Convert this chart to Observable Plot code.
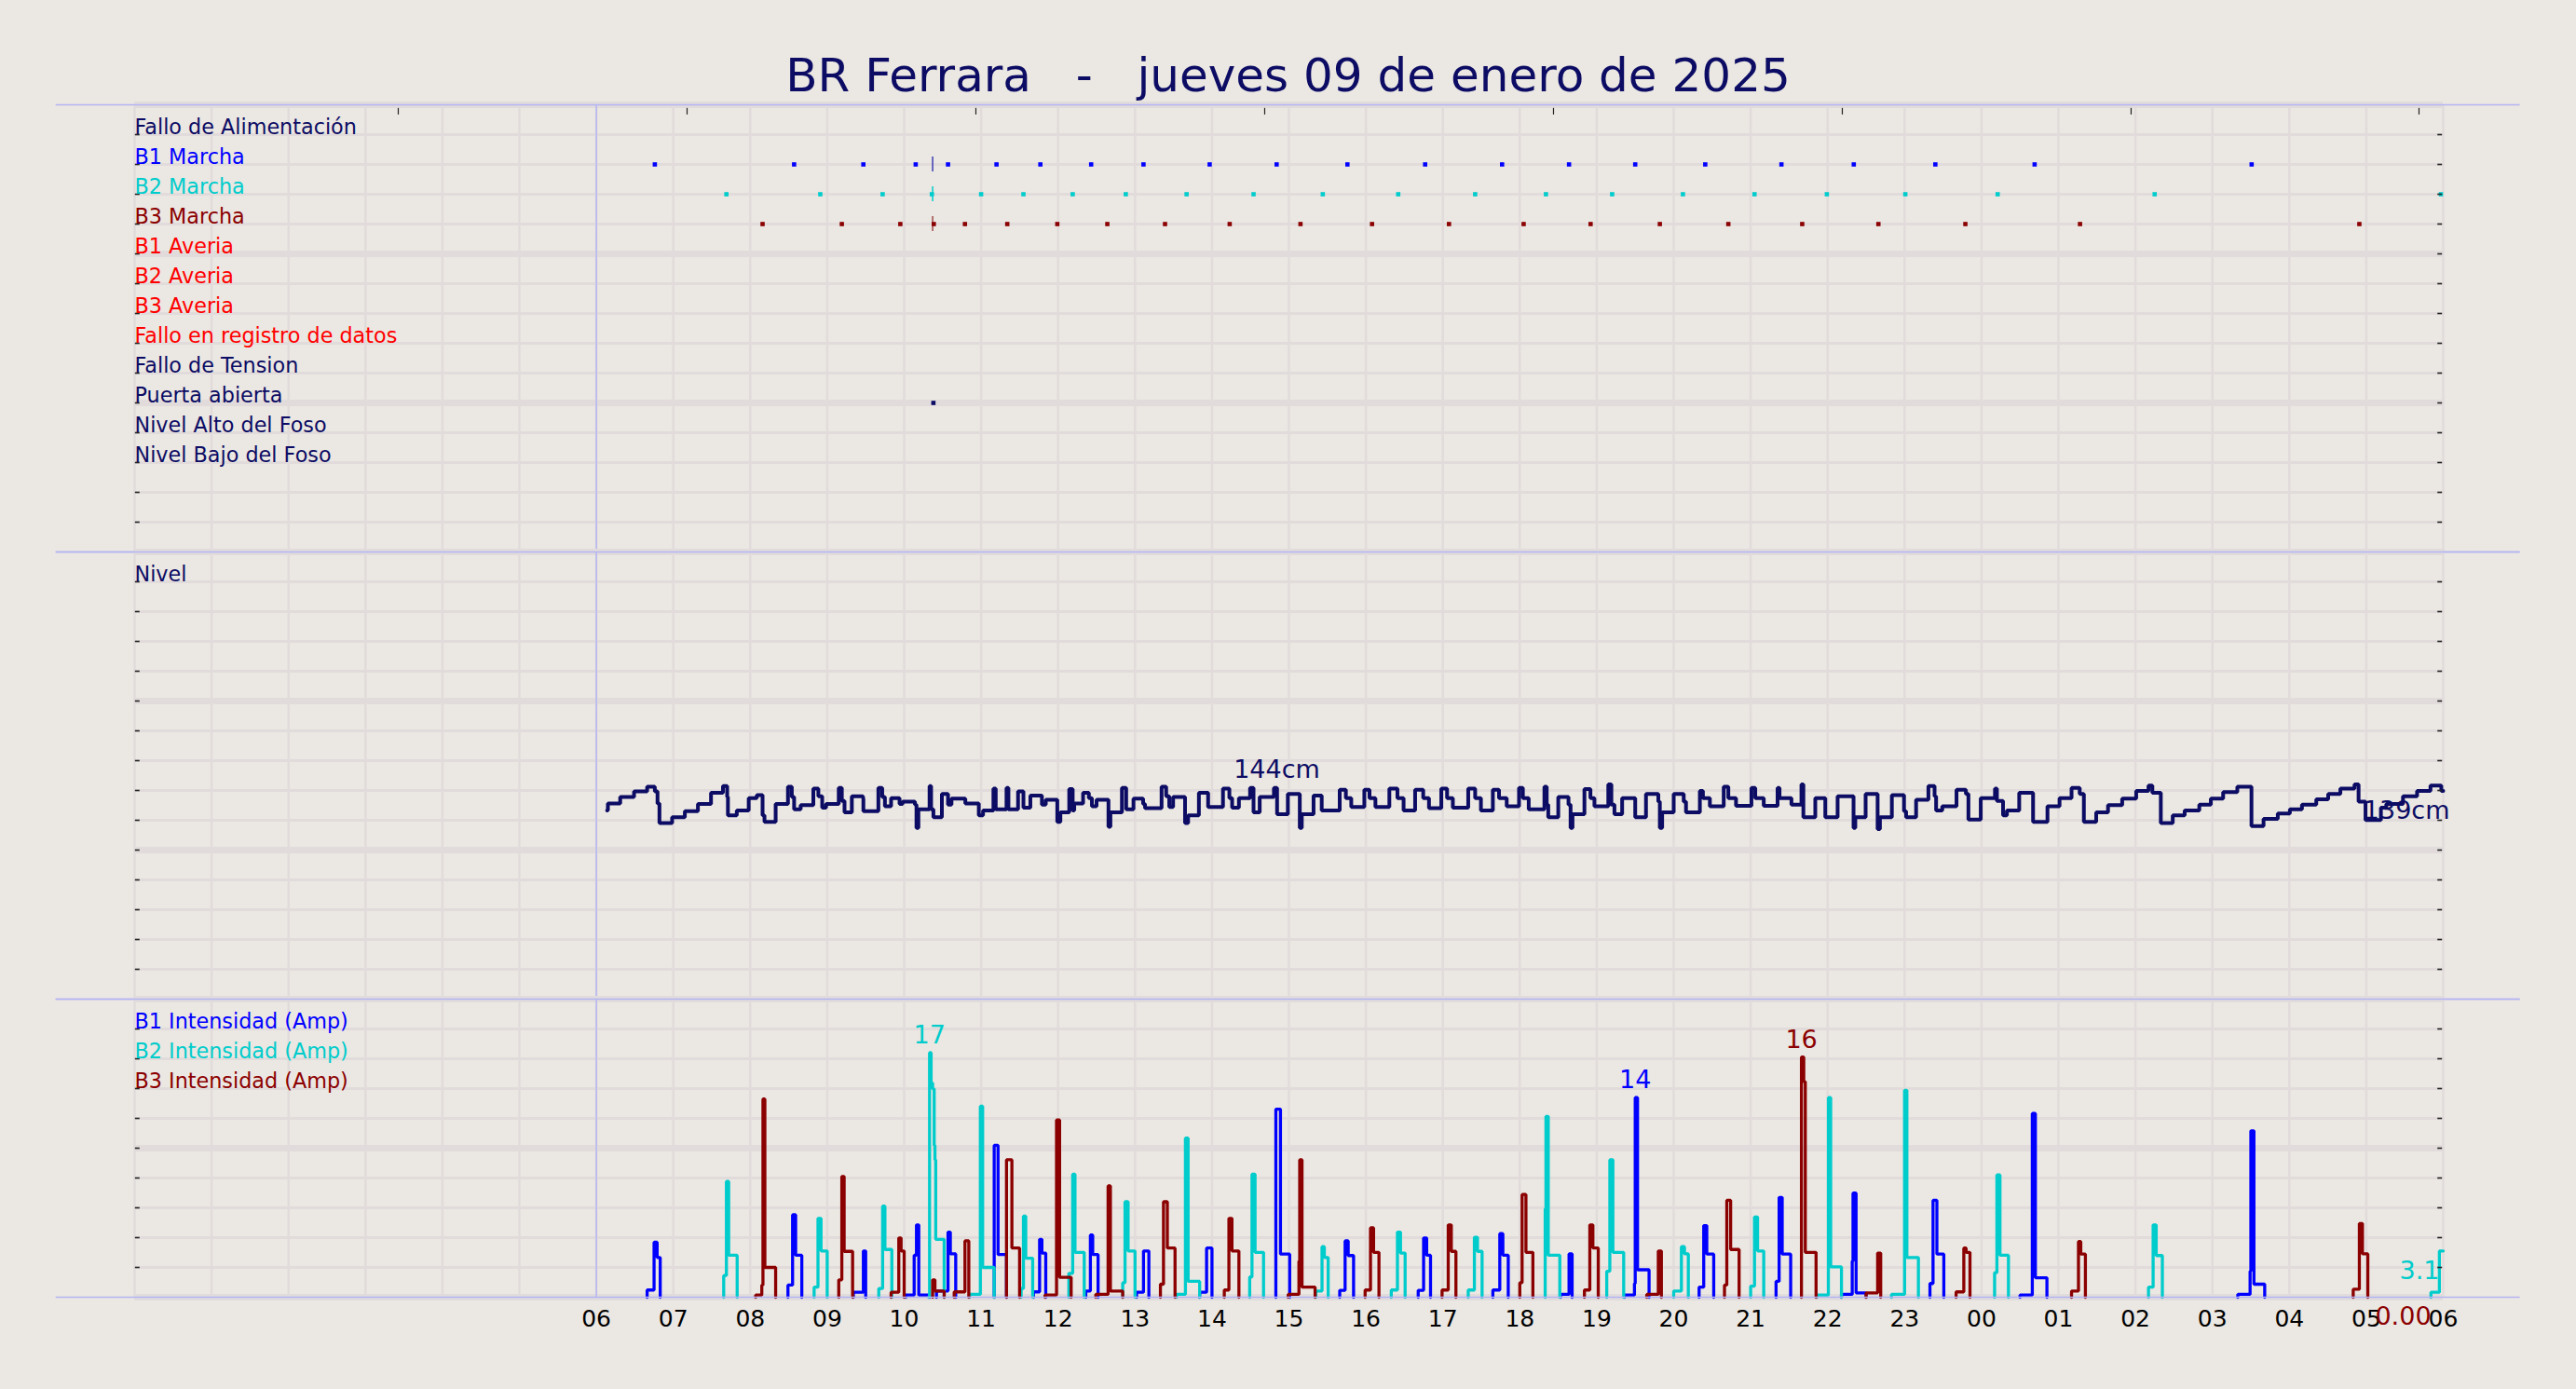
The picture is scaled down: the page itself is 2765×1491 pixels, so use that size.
<!DOCTYPE html>
<html><head><meta charset="utf-8">
<script src="https://cdn.jsdelivr.net/npm/d3@7"></script>
<script src="https://cdn.jsdelivr.net/npm/@observablehq/plot@0.6"></script>
<style>
html,body{margin:0;padding:0;background:#ebe7e2;}
#root{position:relative;width:2765px;height:1491px;overflow:hidden;font-family:"DejaVu Sans",sans-serif;background:#ebe7e2;}
#title{position:absolute;left:0;width:2765px;top:56px;text-align:center;font-size:50px;line-height:1;color:#0c0c64;white-space:pre;}
.panel{position:absolute;left:0;}
.panel svg{overflow:visible;}
</style></head>
<body><div id="root"><div id="title"></div>
<div class="panel" id="p1" style="top:112px"></div>
<div class="panel" id="p2" style="top:592px"></div>
<div class="panel" id="p3" style="top:1072px"></div>
</div>
<script>
// ---------------- data ----------------
const chartTitle = "BR Ferrara   -   jueves 09 de enero de 2025";

const eventLabels = ["Fallo de Alimentación","B1 Marcha","B2 Marcha","B3 Marcha","B1 Averia","B2 Averia","B3 Averia","Fallo en registro de datos","Fallo de Tension","Puerta abierta","Nivel Alto del Foso","Nivel Bajo del Foso"];
const eventColors = ["#0c0c64","#0000ff","#00cccc","#8b0000","#ff0000","#ff0000","#ff0000","#ff0000","#0c0c64","#0c0c64","#0c0c64","#0c0c64"];

// pump start events (hours from 00:00 of the day)
const b1Marcha = [6.76,8.57,9.47,10.15,10.57,11.20,11.77,12.43,13.11,13.97,14.84,15.76,16.77,17.77,18.64,19.50,20.41,21.40,22.34,23.40,24.69,27.51];
const b2Marcha = [7.69,8.91,9.72,10.36,11.00,11.55,12.19,12.88,13.67,14.54,15.44,16.42,17.42,18.34,19.20,20.12,21.05,21.99,23.01,24.21,26.25,29.97];
const b3Marcha = [8.16,9.19,9.95,10.385,10.79,11.34,11.99,12.64,13.39,14.23,15.15,16.08,17.08,18.05,18.92,19.82,20.71,21.67,22.66,23.79,25.28,28.91];
const puertaAbierta = [10.38];
const restartMarks = [10.37];
const topTickHours = [3.426,7.179,10.932,14.685,18.438,22.191,25.944,29.685];

const hourLabels = ["06","07","08","09","10","11","12","13","14","15","16","17","18","19","20","21","22","23","00","01","02","03","04","05","06"];

// level (cm), step series [hour, cm]
const levelSeries = [
[6.14,140.0],[6.15,141.2],[6.31,142.3],[6.49,143.2],[6.66,144.0],[6.76,143.2],[6.795,141.2],[6.82,137.9],[6.985,138.9],[7.15,139.9],[7.32,141.1],[7.49,143.0],[7.645,144.1],[7.70,142.3],[7.71,139.2],[7.825,140.0],[7.98,142.1],[8.085,142.6],[8.16,139.2],[8.185,138.1],[8.33,141.1],[8.49,144.0],[8.54,142.3],[8.57,140.2],[8.655,140.9],[8.82,143.7],[8.885,142.4],[8.935,140.5],[8.985,141.1],[9.15,143.8],[9.19,141.6],[9.225,139.7],[9.32,142.4],[9.465,142.1],[9.47,139.9],[9.665,143.8],[9.715,142.3],[9.75,140.7],[9.83,142.1],[9.94,141.1],[9.98,141.5],[10.14,141.0],[10.16,137.1],[10.185,140.2],[10.33,144.1],[10.35,140.2],[10.38,138.9],[10.49,142.8],[10.57,141.0],[10.615,142.0],[10.795,141.2],[10.97,139.2],[11.025,140.0],[11.16,143.7],[11.19,140.2],[11.33,143.8],[11.355,140.2],[11.48,143.2],[11.55,140.5],[11.64,142.5],[11.79,141.0],[11.84,141.8],[11.99,138.1],[12.03,139.7],[12.145,143.6],[12.19,140.0],[12.21,141.2],[12.325,143.0],[12.40,142.1],[12.44,140.7],[12.50,141.8],[12.655,137.3],[12.68,139.7],[12.83,143.8],[12.885,140.2],[12.98,142.0],[13.105,141.1],[13.13,140.4],[13.345,144.0],[13.405,142.4],[13.445,140.6],[13.495,142.3],[13.65,137.9],[13.69,139.2],[13.83,143.0],[13.95,140.6],
[14.143,143.7],[14.226,142.1],[14.262,140.5],[14.35,142.1],[14.495,143.8],[14.54,139.7],[14.62,142.3],[14.805,143.8],[14.846,139.4],[14.986,142.8],[15.141,137.1],[15.167,139.4],[15.32,142.5],[15.426,140.0],[15.66,143.5],[15.74,142.1],[15.81,140.6],[15.98,143.5],[16.047,142.1],[16.124,140.6],[16.305,143.7],[16.41,142.1],[16.49,140.0],[16.64,143.5],[16.745,142.1],[16.82,140.4],[16.98,143.7],[17.055,142.1],[17.13,140.5],[17.33,143.7],[17.42,142.1],[17.495,140.0],[17.65,143.5],[17.73,142.1],[17.83,140.7],[17.99,143.8],[18.04,142.1],[18.116,140.2],[18.32,144.0],[18.35,141.0],[18.37,138.9],[18.50,142.3],[18.633,141.0],[18.66,137.1],[18.685,139.4],[18.84,143.6],[18.918,142.1],[18.97,140.7],[19.15,144.4],[19.19,141.0],[19.23,139.4],[19.33,142.1],[19.50,138.9],[19.64,142.8],[19.80,141.5],[19.82,137.1],[19.85,139.7],[20.0,142.8],[20.13,141.5],[20.16,139.7],[20.34,143.3],[20.38,142.1],[20.47,140.7],[20.65,144.0],[20.71,142.1],[20.81,140.8],[21.01,143.8],[21.06,142.1],[21.17,140.8],[21.35,143.8],[21.375,142.1],[21.53,141.0],[21.66,144.4],[21.685,138.9],[21.84,142.1],
[21.97,138.9],[22.13,142.4],[22.337,137.1],[22.36,138.9],[22.494,142.8],[22.65,136.9],[22.68,138.9],[22.835,142.6],[22.993,139.9],[23.02,138.9],[23.15,141.8],[23.31,144.1],[23.39,142.4],[23.41,140.0],[23.49,140.7],[23.675,143.5],[23.797,142.8],[23.83,138.5],[23.99,142.1],[24.175,143.7],[24.2,141.6],[24.28,139.2],[24.33,140.0],[24.49,143.0],[24.67,138.1],[24.857,140.7],[25.014,142.1],[25.17,143.8],[25.276,142.8],[25.33,138.1],[25.49,139.7],[25.644,140.9],[25.828,142.0],[26.01,143.3],[26.17,144.2],[26.22,143.0],[26.33,137.9],[26.485,139.2],[26.64,140.0],[26.83,141.0],[26.98,142.0],[27.14,143.1],[27.324,144.0],[27.508,137.4],[27.665,138.6],[27.85,139.5],[28.007,140.2],[28.164,141.0],[28.35,141.9],[28.505,142.8],[28.663,143.7],[28.847,144.4],[28.9,141.5],[28.99,138.4],[29.19,140.5],[29.26,141.1],[29.477,142.4],[29.66,143.3],[29.834,144.2],[29.975,143.3],[30.0,143.3]
];
const levelLabels = ["144cm","139cm"];

// pump currents (Amp): each run = [hour, amp, hour, amp, ...] step-after
const b1Runs = [
[6.66,0.5, 6.75,3.8, 6.79,2.75, 6.83,0],
[8.49,0.84, 8.55,5.7, 8.59,2.9, 8.67,0],
[9.34,0.34, 9.47,3.2, 9.50,0],
[10.02,0.15, 10.13,2.9, 10.16,5.0, 10.19,0.15, 10.33,0],
[10.42,0.43, 10.57,4.5, 10.60,3.0, 10.67,0],
[11.17,10.5, 11.22,2.95, 11.33,0],
[11.68,0.37, 11.76,4.0, 11.79,3.05, 11.84,0],
[12.36,0.43, 12.42,4.3, 12.45,2.95, 12.52,0],
[13.02,0.34, 13.11,3.2, 13.18,0],
[13.84,0.34, 13.93,3.4, 14.0,0],
[14.83,13.0, 14.89,2.98, 15.01,0],
[15.66,0.48, 15.73,3.9, 15.77,2.88, 15.84,0],
[16.68,0.48, 16.75,4.1, 16.79,2.9, 16.84,0],
[17.65,0.5, 17.74,4.4, 17.78,2.9, 17.85,0],
[18.53,0.2, 18.64,3.0, 18.68,0],
[19.36,0.15, 19.49,0.95, 19.50,13.8, 19.53,1.9, 19.68,0],
[20.33,0.7, 20.39,4.95, 20.43,2.98, 20.52,0],
[21.33,1.1, 21.37,6.9, 21.41,2.98, 21.52,0],
[22.18,0.2, 22.32,2.5, 22.33,7.2, 22.37,0.3, 22.50,0],
[23.33,0.95, 23.37,6.7, 23.42,2.98, 23.51,0],
[24.50,0.15, 24.66,12.7, 24.70,1.35, 24.85,0],
[27.33,0.2, 27.49,1.8, 27.50,11.5, 27.54,0.9, 27.68,0]
];
const b2Runs = [
[7.655,1.5, 7.69,8.0, 7.72,2.9, 7.83,0],
[8.83,0.7, 8.88,5.45, 8.92,3.2, 9.0,0],
[9.67,0.6, 9.72,6.3, 9.75,3.3, 9.84,0],
[10.32,0, 10.33,16.9, 10.35,14.8, 10.37,14.4, 10.39,10.5, 10.40,9.5, 10.41,4.0, 10.52,0],
[10.85,0.2, 10.99,13.2, 11.02,2.06, 11.17,0],
[11.52,0.6, 11.55,5.6, 11.58,2.7, 11.67,0],
[12.14,1.65, 12.19,8.5, 12.22,3.1, 12.34,0],
[12.84,1.0, 12.87,6.6, 12.91,3.2, 13.0,0],
[13.54,0.2, 13.655,11.0, 13.69,1.1, 13.84,0],
[14.49,1.4, 14.52,8.5, 14.56,3.1, 14.67,0],
[15.35,0.43, 15.43,3.5, 15.46,2.75, 15.51,0],
[16.33,0.5, 16.41,4.5, 16.45,3.05, 16.51,0],
[17.33,0.5, 17.41,4.15, 17.45,3.17, 17.51,0],
[18.33,6.1, 18.34,12.5, 18.37,2.9, 18.52,0],
[19.13,1.8, 19.17,9.5, 19.21,3.1, 19.35,0],
[20.0,0.43, 20.10,3.5, 20.14,3.0, 20.19,0],
[21.0,0.77, 21.05,5.55, 21.09,3.2, 21.17,0],
[21.86,0.15, 22.01,13.8, 22.04,2.1, 22.18,0],
[22.83,0.2, 23.0,14.3, 23.03,2.75, 23.18,0],
[24.17,1.7, 24.20,8.45, 24.24,2.9, 24.35,0],
[26.17,0.7, 26.23,5.0, 26.27,2.88, 26.35,0],
[29.84,0.34, 29.95,3.2, 30.0,3.2]
];
const b3Runs = [
[8.07,0.15, 8.15,0.84, 8.165,13.7, 8.19,2.06, 8.33,0],
[9.15,1.2, 9.19,8.35, 9.22,3.17, 9.33,0],
[9.83,0.34, 9.93,4.1, 9.96,3.2, 10.0,0],
[10.37,1.2, 10.40,0.43, 10.52,0],
[10.65,0.37, 10.79,3.9, 10.84,0],
[11.33,9.5, 11.40,3.4, 11.50,0],
[11.83,0.15, 11.98,12.25, 12.02,1.38, 12.17,0],
[12.49,0.2, 12.65,7.7, 12.68,0.43, 12.84,0],
[13.33,0.9, 13.37,6.6, 13.42,3.4, 13.52,0],
[14.16,0.5, 14.22,5.45, 14.26,3.2, 14.35,0],
[14.99,0.2, 15.13,2.5, 15.14,9.5, 15.17,0.7, 15.34,0],
[15.99,0.5, 16.06,4.8, 16.10,3.1, 16.17,0],
[16.99,0.5, 17.07,5.0, 17.11,3.17, 17.17,0],
[18.0,1.0, 18.03,7.1, 18.08,3.1, 18.17,0],
[18.84,0.5, 18.91,5.0, 18.95,3.4, 19.02,0],
[19.65,0.2, 19.80,3.2, 19.84,0],
[20.66,0.84, 20.69,6.7, 20.74,3.3, 20.85,0],
[21.66,16.6, 21.69,14.9, 21.71,3.1, 21.85,0],
[22.50,0.3, 22.65,3.05, 22.69,0],
[23.67,0.37, 23.77,3.4, 23.80,3.1, 23.85,0],
[25.17,0.43, 25.26,3.85, 25.29,2.98, 25.35,0],
[28.83,0.55, 28.91,5.1, 28.95,3.0, 29.02,0]
];
const currentLegend = ["B1 Intensidad (Amp)","B2 Intensidad (Amp)","B3 Intensidad (Amp)"];
const currentColors = ["#0000ff","#00cccc","#8b0000"];
const peakLabels = ["14","17","16"];
const lastLabels = ["","3.1","0.00"];

// ---------------- layout / style ----------------
const W = 2765, FONT = "DejaVu Sans";
const gridColor = "#e1dcdb", sepColor = "#b4b4f4", navy = "#0c0c64";
const X_DOMAIN = [0, 30];
const LEVEL_DOMAIN = [108.375, 183.375];
const AMP_MAX = 20.6;
const LABEL_SIZE = 22.3;

document.getElementById("title").textContent = chartTitle;

const common = {
  width: W, marginLeft: 144, marginRight: 143, marginTop: 0,
  x: {domain: X_DOMAIN, axis: null},
  color: {type: "identity"},
  style: {fontFamily: FONT, background: "transparent", overflow: "visible"}
};

function gridMarks(rowValues, thickIdx) {
  const thin = rowValues.filter((_, i) => !thickIdx.includes(i));
  const thick = rowValues.filter((_, i) => thickIdx.includes(i));
  return [
    Plot.ruleX(d3.range(0, 31), {stroke: gridColor, strokeWidth: 2.5}),
    Plot.ruleY(thin, {x1: 0, x2: 30, stroke: gridColor, strokeWidth: 3}),
    Plot.ruleY(thick, {x1: 0, x2: 30, stroke: gridColor, strokeWidth: 7})
  ];
}
function sideTicks(rowValues) {
  return [
    Plot.ruleY(rowValues, {x1: 0.01, x2: 0.07, stroke: "#222", strokeWidth: 1.6}),
    Plot.ruleY(rowValues, {x1: 29.93, x2: 29.99, stroke: "#222", strokeWidth: 1.6})
  ];
}
const separators = (top, bottom) => Plot.ruleY([top, bottom], {x1: -1.02, x2: 31.0, stroke: sepColor, strokeWidth: 1.5});
const dayStart = Plot.ruleX([6], {stroke: sepColor, strokeWidth: 1.5});

// ---------------- panel 1: events ----------------
const eventRows = d3.range(16);
const marchaSets = [[b1Marcha, 2, currentColors[0], "#3c3cb4"], [b2Marcha, 3, currentColors[1], "#00cccc"], [b3Marcha, 4, currentColors[2], "#a04a4a"]];
const p1 = Plot.plot({
  ...common, height: 480, marginBottom: 0,
  y: {domain: [0, 15], reverse: true, axis: null},
  marks: [
    ...gridMarks(eventRows, [0, 5, 10, 15]),
    dayStart,
    ...marchaSets.map(([arr, row, c, rc]) => Plot.ruleX(restartMarks, {y1: row - 0.25, y2: row + 0.25, stroke: rc, strokeWidth: 1.5})),
    ...marchaSets.map(([arr, row, c]) => Plot.dot(arr, {x: d => d, y: row, symbol: "square", r: 2.6, fill: c, stroke: "none"})),
    Plot.dot(puertaAbierta, {x: d => d, y: 10, symbol: "square", r: 2.6, fill: navy, stroke: "none"}),
    Plot.ruleX(topTickHours, {y1: 0.12, y2: 0.34, stroke: "#222", strokeWidth: 1.2}),
    ...sideTicks(eventRows.slice(1, 15)),
    Plot.text(eventLabels, {x: 0, y: (d, i) => i + 1, text: d => d, fill: (d, i) => eventColors[i], textAnchor: "start", lineAnchor: "bottom", dy: -1, fontSize: LABEL_SIZE}),
    separators(0, 15)
  ]
});
document.getElementById("p1").appendChild(p1);

// ---------------- panel 2: level ----------------
const levelRows = d3.range(16).map(k => LEVEL_DOMAIN[1] - 5 * k);
const levelMax = d3.max(levelSeries, d => d[1]);
const p2 = Plot.plot({
  ...common, height: 480, marginBottom: 0,
  y: {domain: LEVEL_DOMAIN, axis: null},
  marks: [
    ...gridMarks(levelRows, [0, 5, 10, 15]),
    dayStart,
    Plot.line(levelSeries, {x: d => d[0], y: d => d[1], curve: "step-after", stroke: navy, strokeWidth: 4, strokeLinejoin: "miter"}),
    ...sideTicks(levelRows.slice(1, 15)),
    Plot.text(["Nivel"], {x: 0, y: levelRows[1], text: d => d, fill: navy, textAnchor: "start", lineAnchor: "bottom", dy: -1, fontSize: LABEL_SIZE}),
    Plot.text([levelLabels[0]], {x: d3.mean(X_DOMAIN), y: levelMax, text: d => d, dx: -13, dy: -7, lineAnchor: "bottom", fill: navy, fontSize: 27}),
    Plot.text([levelLabels[1]], {x: X_DOMAIN[1], y: 139, text: d => d, dx: 7, dy: -6, textAnchor: "end", lineAnchor: "middle", fill: navy, fontSize: 27}),
    separators(LEVEL_DOMAIN[1], LEVEL_DOMAIN[0])
  ]
});
document.getElementById("p2").appendChild(p2);

// ---------------- panel 3: currents ----------------
const ampRows = d3.range(11).map(k => AMP_MAX - (AMP_MAX / 10) * k);
function rowsFromRuns(runs, name) {
  return runs.flatMap((r, i) => {
    const pts = [{h: r[0], a: 0, run: name + i}];
    for (let k = 0; k < r.length; k += 2) pts.push({h: r[k], a: r[k + 1], run: name + i});
    return pts;
  });
}
const currentSeries = [b1Runs, b2Runs, b3Runs].map((runs, i) => rowsFromRuns(runs, "B" + (i + 1)));
const peaks = currentSeries.map((rows, i) => {
  const p = rows.reduce((m, r) => (r.a > m.a ? r : m));
  return {h: p.h, a: p.a, text: peakLabels[i], color: currentColors[i]};
});
const lasts = currentSeries.map((rows, i) => ({...rows[rows.length - 1], text: lastLabels[i], color: currentColors[i]})).filter(d => d.text);
const hourTicks = d3.range(6, 31);

const p3 = Plot.plot({
  ...common, height: 360, marginBottom: 40,
  y: {domain: [0, AMP_MAX], axis: null},
  marks: [
    ...gridMarks(ampRows, [0, 5, 10]),
    dayStart,
    ...currentSeries.map((rows, i) => Plot.line(rows, {x: "h", y: "a", z: "run", curve: "step-after", stroke: currentColors[i], strokeWidth: 3.3, strokeLinejoin: "miter"})),
    ...sideTicks(ampRows.slice(1, 10)),
    separators(AMP_MAX, 0),
    Plot.text(currentLegend, {x: 0, y: (d, i) => ampRows[i + 1], text: d => d, fill: (d, i) => currentColors[i], textAnchor: "start", lineAnchor: "bottom", dy: -1, fontSize: LABEL_SIZE}),
    Plot.text(peaks, {x: "h", y: "a", text: "text", fill: "color", dy: -10, lineAnchor: "bottom", fontSize: 27}),
    Plot.text(hourLabels, {x: (d, i) => hourTicks[i], y: 0, text: d => d, dy: 31, lineAnchor: "bottom", fontSize: 25, fill: "#000"}),
    Plot.text(lasts.filter(d => d.a > 0), {x: "h", y: 0, text: "text", fill: "color", dx: -4, dy: -20, textAnchor: "end", lineAnchor: "bottom", fontSize: 27}),
    Plot.text(lasts.filter(d => d.a === 0), {x: X_DOMAIN[1], y: "a", text: "text", fill: "color", dx: -43, dy: 29, lineAnchor: "bottom", fontSize: 27})
  ]
});
document.getElementById("p3").appendChild(p3);
</script>
</body></html>
